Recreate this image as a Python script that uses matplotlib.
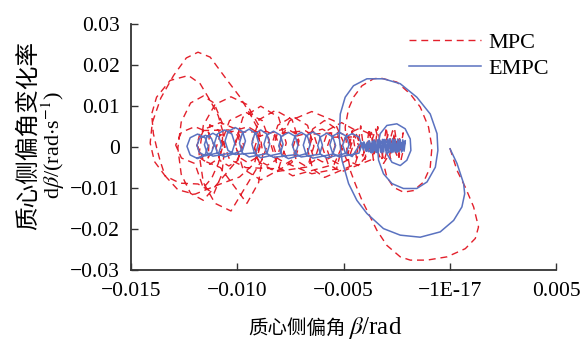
import matplotlib
matplotlib.use("Agg")
import matplotlib.pyplot as plt
import numpy as np

plt.rcParams['font.family'] = ['Liberation Serif', 'Noto Sans CJK SC']
plt.rcParams['mathtext.fontset'] = 'stix'

# beta and dbeta/dt, both written in units of 1e-3 (rad, rad/s)

# EMPC: start at the origin, two turns of spiral, settling blob, loops drifting left
empc_spiral_b = [0.00, 0.33, 0.64, 0.69, 0.56, 0.17, -0.46, -1.40, -2.34, -3.13, -3.91, -4.38, -4.77,
                 -5.08, -5.21, -5.16, -4.93, -4.54, -3.91, -3.13, -2.34, -1.56, -0.93, -0.61, -0.57,
                 -0.69, -1.08, -1.56, -2.19, -2.73, -3.13, -3.36, -3.41, -3.28, -2.97, -2.50, -2.11,
                 -1.87, -1.84, -2.03, -2.34, -2.73, -2.97]
empc_spiral_r = [-0.4, -4.0, -8.9, -11.4, -14.6, -17.9, -20.7, -22.0, -21.5, -19.9, -16.2, -13.0, -8.9,
                 -3.2, 2.4, 8.1, 12.2, 15.0, 16.7, 16.7, 15.5, 12.2, 8.1, 3.3, -0.8,
                 -4.9, -8.5, -10.1, -10.1, -8.9, -6.5, -3.2, 0.0, 3.3, 5.3, 5.7, 4.5,
                 2.0, -0.8, -3.2, -4.5, -3.7, -1.6]

empc_blob_b = [-2.10, -2.16, -2.22, -2.28, -2.34, -2.40, -2.46, -2.52, -2.58, -2.64, -2.70, -2.76,
               -2.82, -2.88, -2.94, -3.00, -3.06, -3.12, -3.18, -3.24, -3.30, -3.36, -3.42, -3.48,
               -3.54, -3.60, -3.66, -3.72, -3.78, -3.84, -3.90, -3.96, -4.02, -4.08, -4.14,
               -4.05, -3.93, -3.81, -3.69, -3.57, -3.45, -3.33, -3.21, -3.09, -2.97, -2.85, -2.73,
               -2.61, -2.49, -2.37, -2.25, -2.13,
               -2.50, -3.10, -3.70, -4.20]
empc_blob_r = [1.6, -1.0, 1.8, -1.2, 1.9, -1.1, 2.0, -1.3, 1.8, -1.2, 2.1, -1.3,
               1.9, -1.1, 2.0, -1.4, 1.8, -1.2, 1.9, -1.3, 1.7, -1.1, 1.8, -1.3,
               1.6, -1.2, 1.5, -1.0, 1.4, -1.1, 1.2, -0.9, 1.0, -0.7, 0.8,
               1.3, -1.0, 1.6, -1.2, 1.8, -1.3, 1.9, -1.4, 1.7, -1.2, 2.0, -1.3,
               1.8, -1.1, 1.6, -0.9, 1.1,
               -1.2, 1.9, -1.4, 1.0]

empc_loops_b = [-4.60, -4.92, -5.05, -4.92, -4.60, -4.28, -4.15, -4.28,
                -5.20, -5.52, -5.65, -5.52, -5.20, -4.88, -4.75, -4.88,
                -5.80, -6.09, -6.22, -6.09, -5.80, -5.51, -5.38, -5.51,
                -6.45, -6.77, -6.90, -6.77, -6.45, -6.13, -6.00, -6.13,
                -7.00, -7.29, -7.42, -7.29, -7.00, -6.71, -6.58, -6.71,
                -7.60, -7.92, -8.05, -7.92, -7.60, -7.28, -7.15, -7.28,
                -8.30, -8.62, -8.75, -8.62, -8.30, -7.98, -7.85, -7.98,
                -8.90, -9.19, -9.32, -9.19, -8.90, -8.61, -8.48, -8.61,
                -9.45, -9.77, -9.90, -9.77, -9.45, -9.13, -9.00, -9.13,
                -10.10, -10.44, -10.58, -10.44, -10.10, -9.76, -9.62, -9.76,
                -10.60, -10.94, -11.08, -10.94, -10.60, -10.26, -10.12, -10.26,
                -11.15, -11.43, -11.55, -11.43, -11.15, -10.87, -10.75, -10.87,
                -11.50, -11.78, -11.90, -11.78, -11.50, -11.22, -11.10, -11.22,
                -11.87, -12.22, -12.37, -12.22, -11.87, -11.52, -11.37, -11.52, -11.90]
empc_loops_r = [-2.30, -1.46, 0.50, 2.46, 3.30, 2.46, 0.50, -1.46,
                -2.40, -1.50, 0.60, 2.70, 3.60, 2.70, 0.60, -1.50,
                -2.60, -1.70, 0.40, 2.50, 3.40, 2.50, 0.40, -1.70,
                -2.70, -1.74, 0.50, 2.74, 3.70, 2.74, 0.50, -1.74,
                -2.40, -1.50, 0.60, 2.70, 3.60, 2.70, 0.60, -1.50,
                -2.80, -1.84, 0.40, 2.64, 3.60, 2.64, 0.40, -1.84,
                -2.50, -1.54, 0.70, 2.94, 3.90, 2.94, 0.70, -1.54,
                -2.60, -1.58, 0.80, 3.18, 4.20, 3.18, 0.80, -1.58,
                -2.40, -1.38, 1.00, 3.38, 4.40, 3.38, 1.00, -1.38,
                -1.80, -0.81, 1.50, 3.81, 4.80, 3.81, 1.50, -0.81,
                -2.40, -1.41, 0.90, 3.21, 4.20, 3.21, 0.90, -1.41,
                -2.20, -1.36, 0.60, 2.56, 3.40, 2.56, 0.60, -1.36,
                -2.10, -1.35, 0.40, 2.15, 2.90, 2.15, 0.40, -1.35,
                -2.80, -1.90, 0.20, 2.30, 3.20, 2.30, 0.20, -1.90, -2.70]

# MPC: wider spiral, bushier blob, loops growing to the left, then small loops back
mpc_spiral_b = [0.00, 0.33, 0.72, 1.11, 1.34, 1.19, 0.72, -0.14, -1.08, -1.87, -2.34, -2.97,
                -3.44, -3.83, -4.14, -4.46, -4.69, -4.85, -4.93, -4.77, -4.54, -4.14, -3.60,
                -3.28, -2.50, -1.87, -1.40, -1.01, -0.85, -0.93, -1.24, -1.71, -2.19, -2.66,
                -2.97, -3.13]
mpc_spiral_r = [-0.3, -5.7, -9.8, -14.6, -19.5, -22.3, -24.8, -26.8, -27.6, -27.6, -26.8, -24.0,
                -20.3, -16.2, -13.0, -8.9, -5.7, -0.8, 4.9, 9.4, 12.2, 15.0, 16.7,
                16.9, 15.9, 13.0, 9.8, 4.9, 0.0, -4.9, -8.5, -10.6, -11.0, -9.8,
                -7.3, -4.0]

mpc_blob_b = [-2.2, -2.4, -2.6, -2.8, -3.0, -3.2, -3.4, -3.6, -3.8, -4.0, -4.2, -4.4, -4.6,
              -4.8, -4.5, -4.1, -3.7, -3.3, -2.9, -2.5, -2.1, -2.3, -2.7, -3.1, -3.5, -3.9]
mpc_blob_r = [3.5, -2.5, 4.2, -3.0, 4.8, -2.8, 5.0, -3.2, 4.5, -3.0, 5.2, -2.6, 4.0,
              -2.0, 3.0, -2.2, 3.6, -2.4, 3.2, -2.0, 1.5, -3.0, 4.0, -3.4, 4.4, -2.0]

mpc_mid_b = [-4.30, -4.86, -5.10, -4.86, -4.30, -3.74, -3.50, -3.74,
             -5.10, -5.73, -6.00, -5.73, -5.10, -4.47, -4.20, -4.47,
             -5.90, -6.46, -6.70, -6.46, -5.90, -5.34, -5.10, -5.34,
             -6.50, -7.55, -8.00, -7.55, -6.50, -5.45, -5.00, -5.45,
             -7.40, -8.10, -8.40, -8.10, -7.40, -6.70, -6.40, -6.70,
             -8.20, -8.97, -9.30, -8.97, -8.20, -7.43, -7.10, -7.43,
             -8.90, -9.74, -10.10, -9.74, -8.90, -8.06, -7.70, -8.06,
             -9.60, -10.37, -10.70, -10.37, -9.60, -8.83, -8.50, -8.83]
mpc_mid_r = [-4.50, -3.15, 0.00, 3.15, 4.50, 3.15, 0.00, -3.15,
             -6.00, -4.20, 0.00, 4.20, 6.00, 4.20, 0.00, -4.20,
             -7.40, -5.32, -0.45, 4.42, 6.50, 4.42, -0.45, -5.32,
             -6.50, -4.22, 1.10, 6.42, 8.70, 6.42, 1.10, -4.22,
             -7.00, -4.83, 0.25, 5.33, 7.50, 5.33, 0.25, -4.83,
             -6.00, -3.75, 1.50, 6.75, 9.00, 6.75, 1.50, -3.75,
             -8.00, -5.30, 1.00, 7.30, 10.00, 7.30, 1.00, -5.30,
             -5.00, -2.98, 1.75, 6.48, 8.50, 6.48, 1.75, -2.98]

mpc_wide_b = [-10.30, -11.05, -11.60, -11.80, -11.60, -11.05, -10.30, -9.55, -9.00, -8.80, -9.00, -9.55,
              -10.80, -11.57, -11.90, -11.57, -10.80, -10.03, -9.70, -10.03,
              -11.60, -12.20, -12.64, -12.80, -12.64, -12.20, -11.60, -11.10, -10.73, -10.60, -10.73, -11.10,
              -11.85, -12.70, -13.40, -13.90, -14.10, -14.00, -13.60, -13.00, -12.40, -11.85, -11.28,
              -10.50, -9.87, -9.40, -9.08, -8.95, -9.20, -9.90, -10.80,
              -12.00, -12.80, -13.40, -13.64, -13.80, -13.95, -14.03, -13.80, -13.16, -12.30, -11.75,
              -11.28, -10.90, -10.70, -10.70, -10.90, -11.20, -11.60,
              -12.00, -12.63, -12.90, -12.63, -12.00, -11.37, -11.10, -11.37]
mpc_wide_r = [-15.60, -13.73, -8.63, -1.65, 5.33, 10.43, 12.30, 10.43, 5.33, -1.65, -8.63, -13.73,
              -5.00, -3.35, 0.50, 4.35, 6.00, 4.35, 0.50, -3.35,
              -13.00, -11.29, -6.63, -0.25, 6.13, 10.79, 12.50, 10.79, 6.13, -0.25, -6.63, -11.29,
              -9.00, -8.80, -7.00, -3.50, 1.00, 6.00, 12.00, 17.50, 21.80, 23.20, 22.00,
              16.50, 12.20, 8.10, 4.90, 0.50, -4.00, -7.30, -9.00,
              -11.50, -10.40, -7.00, -3.20, 0.00, 3.30, 8.10, 12.20, 16.30, 17.50, 15.50,
              11.40, 7.70, 4.10, 0.00, -4.00, -7.50, -10.00,
              -4.00, -2.65, 0.50, 3.65, 5.00, 3.65, 0.50, -2.65]

mpc_back_b = [-11.30, -10.88, -10.70, -10.88, -11.30, -11.72, -11.90, -11.72,
              -10.40, -9.98, -9.80, -9.98, -10.40, -10.82, -11.00, -10.82,
              -9.50, -9.08, -8.90, -9.08, -9.50, -9.92, -10.10, -9.92,
              -8.60, -8.18, -8.00, -8.18, -8.60, -9.02, -9.20, -9.02,
              -7.70, -7.28, -7.10, -7.28, -7.70, -8.12, -8.30, -8.12,
              -6.80, -6.38, -6.20, -6.38, -6.80, -7.22, -7.40, -7.22,
              -6.00, -5.58, -5.40, -5.58, -6.00, -6.42, -6.60, -6.42,
              -5.20, -4.78, -4.60, -4.78, -5.20, -5.62, -5.80, -5.62, -4.40]
mpc_back_r = [5.50, 4.05, 0.65, -2.75, -4.20, -2.75, 0.65, 4.05,
              4.20, 2.88, -0.20, -3.28, -4.60, -3.28, -0.20, 2.88,
              5.00, 3.68, 0.60, -2.48, -3.80, -2.48, 0.60, 3.68,
              3.80, 2.57, -0.30, -3.17, -4.40, -3.17, -0.30, 2.57,
              4.60, 3.31, 0.30, -2.71, -4.00, -2.71, 0.30, 3.31,
              4.00, 2.71, -0.30, -3.31, -4.60, -3.31, -0.30, 2.71,
              4.40, 3.20, 0.40, -2.40, -3.60, -2.40, 0.40, 3.20,
              3.60, 2.43, -0.30, -3.03, -4.20, -3.03, -0.30, 2.43, 2.50]

x_ticks = [-0.015, -0.010, -0.005, 0.0, 0.005]
x_labels = ["\u22120.015", "\u22120.010", "\u22120.005", "\u22121E-17", "0.005"]
y_ticks = [0.03, 0.02, 0.01, 0.0, -0.01, -0.02, -0.03]
y_labels = ["0.03", "0.02", "0.01", "0", "\u22120.01", "\u22120.02", "\u22120.03"]


def join(*parts):
    return np.concatenate([np.asarray(p, dtype=float) for p in parts]) * 1e-3


mpc_b = join(mpc_spiral_b, mpc_blob_b, mpc_mid_b, mpc_wide_b, mpc_back_b)
mpc_r = join(mpc_spiral_r, mpc_blob_r, mpc_mid_r, mpc_wide_r, mpc_back_r)
empc_b = join(empc_spiral_b, empc_blob_b, empc_loops_b)
empc_r = join(empc_spiral_r, empc_blob_r, empc_loops_r)

fig = plt.figure(figsize=(5.85, 3.43), dpi=100)
ax = fig.add_axes([0.224, 0.213, 0.727, 0.716])

ax.plot(mpc_b, mpc_r, color='#e3202b', lw=1.0, dashes=(5, 3.5), label='MPC')
ax.plot(empc_b, empc_r, color='#5a72c0', lw=1.1, label='EMPC')

ax.set_xlim(-0.015, 0.005)
ax.set_ylim(-0.03, 0.03)
ax.set_xticks(x_ticks)
ax.set_xticklabels(x_labels)
ax.set_yticks(y_ticks)
ax.set_yticklabels(y_labels)
ax.tick_params(direction='in', length=5, width=1.0, labelsize=15.5, color='#333333')
ax.tick_params(axis='x', pad=9)
ax.tick_params(axis='y', pad=8)
for s in ['top', 'right']:
    ax.spines[s].set_visible(False)
for s in ['left', 'bottom']:
    ax.spines[s].set_linewidth(1.3)
    ax.spines[s].set_color('#333333')

ax.legend(frameon=False, loc='upper right', bbox_to_anchor=(549 / 585, 1 - 32 / 343),
          bbox_transform=fig.transFigure, fontsize=16, handlelength=3.2,
          handletextpad=0.35, labelspacing=0.25, borderaxespad=0, borderpad=0)

# axis titles: Chinese text and the serif/math part set separately
fig.text(28 / 585, 1 - 135 / 343, "质心侧偏角变化率", rotation=90, ha='center', va='center',
         fontsize=17, family='Noto Sans CJK SC', weight='light')
fig.text(53 / 585, 1 - 145 / 343, r"d$\beta$/(rad$\cdot$s$^{-1}$)", rotation=90,
         ha='center', va='center', fontsize=16)
fig.text(346 / 585, 1 - 334 / 343, "质心侧偏角", ha='right', va='baseline',
         fontsize=14, family='Noto Sans CJK SC', weight='light')
fig.text(348 / 585, 1 - 334 / 343, r"$\beta$/rad", ha='left', va='baseline', fontsize=18)

fig.savefig("out.png", dpi=100)
